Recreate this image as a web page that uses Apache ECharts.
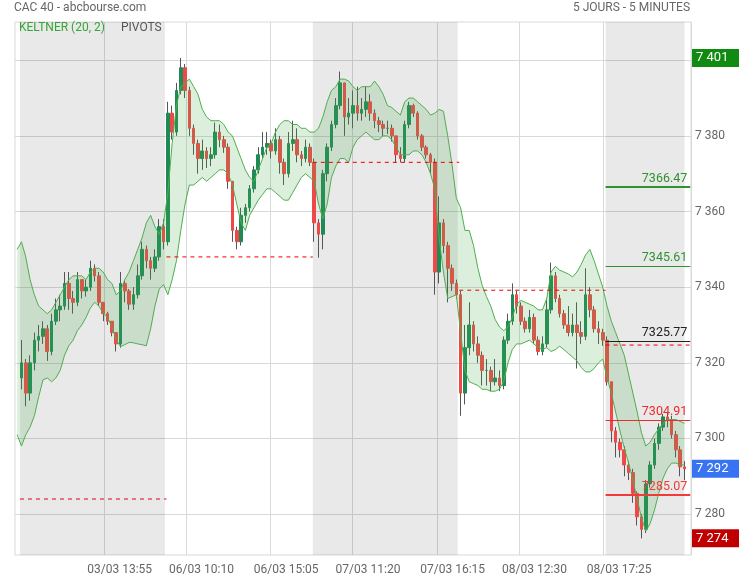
<!DOCTYPE html>
<html><head><meta charset="utf-8">
<script src="https://cdn.jsdelivr.net/npm/echarts@6/dist/echarts.min.js"></script>
<style>html,body{margin:0;padding:0;background:#fff}#c{width:739px;height:580px}</style>
</head><body><div id="c"></div>
<script>
// ---- data (15-minute candles) ----
const days = ['03/03', '06/03', '07/03', '08/03', '09/03'];
const tickLabels = ['03/03 13:55', '06/03 10:10', '06/03 15:05', '07/03 11:20', '07/03 16:15', '08/03 12:30', '08/03 17:25'];
const yTicks = [7280, 7300, 7320, 7340, 7360, 7380, 7400];
const firstOpen = 7316;
const closes = [null,
  7320, 7312, 7320, 7326, 7327, 7329, 7323, 7331, 7334, 7335, 7341, 7337, 7336, 7342, 7339, 7340, 7345, 7343, 7336, 7333, 7331, 7328, 7325, 7341, 7339, 7335.5, 7338, 7343, 7350, 7347, 7345, 7348, 7356, 7352,
  7386, 7381, 7392, 7398, 7392, 7382, 7378, 7374, 7376, 7374, 7375, 7381, 7379, 7377, 7368, 7355, 7352, 7359, 7361, 7366, 7371, 7375, 7377, 7378, 7376, 7379, 7373, 7370, 7378, 7379, 7375, 7374, 7377, 7373,
  7357, 7354, 7370, 7377, 7383, 7388, 7394, 7385, 7386, 7388, 7386, 7387, 7389, 7386, 7384, 7383, 7382, 7382, 7380, 7375, 7374, 7383, 7388, 7386, 7380, 7377, 7375, 7373, 7344, 7357, 7351, 7345, 7341, 7338,
  7312, 7324, 7330, 7325, 7322, 7318, 7318, 7315, 7316, 7314, 7326, 7331, 7338, 7335, 7331, 7329, 7332, 7326, 7323, 7325, 7334, 7343, 7337, 7333, 7330, 7328, 7330, 7328, 7327, 7338, 7334, 7329, 7328, 7326,
  7315, 7302, 7299, 7297, 7293, 7291, 7285.5, 7279.3, 7276, 7288, 7293, 7298.7, 7303, 7305.7, 7305, 7301, 7297, 7292.5, 7292];
const highs = [null,
  7326, 7321, 7322, 7328, 7330, 7331, 7330, 7333, 7337, 7338, 7344, 7344, 7339, 7344, 7342, 7342, 7347, 7346, 7344, 7336, 7333.5, 7331, 7328, 7344, 7342, 7339.5, 7340, 7346, 7352, 7351, 7348, 7350, 7358, 7358,
  7389, 7388, 7394, 7400.6, 7399, 7393, 7383, 7379, 7379, 7377, 7377, 7383.5, 7383, 7380, 7378, 7368, 7356, 7361, 7362, 7367, 7372, 7377, 7381, 7381, 7379, 7382, 7380, 7374, 7381, 7384, 7382, 7376, 7379, 7378,
  7374, 7358, 7371, 7378, 7384, 7390, 7397, 7394, 7390, 7392, 7393, 7390, 7393, 7391, 7387, 7385, 7384, 7384, 7383, 7380, 7377, 7384, 7389, 7388.5, 7386.5, 7380.5, 7377.5, 7375.5, 7374, 7364, 7358, 7352, 7346, 7342,
  7339, 7330, 7336, 7331, 7327, 7323, 7321, 7319, 7321, 7318, 7327, 7333, 7341, 7339, 7336, 7332, 7334, 7333, 7327, 7327, 7337, 7346.5, 7344, 7338, 7334, 7335, 7333, 7336, 7331, 7345, 7340, 7335, 7331, 7329,
  7327, 7315, 7303, 7300, 7298, 7294, 7292, 7286, 7280, 7289, 7294, 7300, 7304, 7306.5, 7307, 7306, 7302, 7298, 7294];
const lows = [null,
  7313, 7308.5, 7310, 7318, 7323, 7325, 7320.5, 7322, 7330, 7331, 7334, 7334, 7333, 7335, 7337, 7337.5, 7339, 7341.5, 7335, 7331, 7330, 7327, 7323, 7324, 7336, 7334, 7334, 7337, 7342, 7345, 7342, 7344, 7347, 7350,
  7351, 7379, 7380, 7391, 7390, 7380, 7375, 7370, 7371, 7371.5, 7372, 7374, 7377, 7375.5, 7366, 7352, 7350, 7351, 7357, 7360, 7365, 7370, 7374, 7375, 7374, 7375, 7370, 7367, 7369, 7376, 7373, 7372, 7373, 7372,
  7352, 7347.8, 7350, 7368, 7376, 7382, 7387, 7380, 7383, 7382, 7384, 7384, 7385, 7384, 7382, 7381, 7380, 7380.5, 7378.5, 7373, 7373, 7373, 7382, 7385, 7379, 7376, 7374, 7370, 7338, 7341, 7349, 7336, 7339, 7337,
  7306, 7309, 7322, 7323, 7320, 7314, 7314, 7312.5, 7314, 7312.5, 7313, 7325, 7330, 7333, 7330, 7328, 7328, 7325, 7322, 7322, 7324, 7333, 7336, 7332, 7329, 7327, 7327, 7318.5, 7325, 7326, 7332, 7328, 7325, 7324.5,
  7314, 7299, 7295, 7295, 7290, 7289, 7283, 7277, 7273.6, 7275, 7287, 7292, 7297, 7302, 7303, 7300, 7295, 7290, 7289];
const upperBand = [7350,
  7352, 7348, 7342, 7338, 7335, 7334, 7333, 7334, 7336, 7338, 7340, 7342, 7343, 7343, 7343, 7342, 7344, 7345, 7345, 7344, 7342, 7341, 7338, 7339, 7342, 7344, 7347, 7350, 7353, 7357, 7359, 7356, 7354, 7357,
  7365, 7378, 7388, 7393, 7394, 7395, 7393, 7391, 7387, 7385, 7384, 7384, 7384, 7383, 7381, 7380, 7377, 7374, 7371, 7369, 7368, 7371, 7374, 7377, 7378, 7381, 7383, 7384, 7384, 7383, 7383, 7382, 7382, 7381,
  7381, 7382, 7385, 7389, 7392, 7393, 7395, 7395, 7394.5, 7393, 7392, 7393, 7393, 7393, 7394.5, 7393, 7391, 7388, 7387.5, 7386.5, 7385.5, 7389, 7390, 7390, 7389, 7388, 7387, 7385.5, 7386, 7387, 7386.5, 7380, 7372.4, 7363.5,
  7361, 7355, 7355, 7351, 7345, 7340.5, 7337.5, 7335, 7331.5, 7329.5, 7328.5, 7329.5, 7332, 7335.5, 7336.5, 7336, 7335.5, 7335, 7334, 7334, 7337, 7344, 7345.5, 7344.5, 7344, 7343.5, 7342.7, 7344, 7346, 7348.5, 7350, 7347, 7343.5, 7340,
  7335, 7331, 7328, 7325, 7322, 7317, 7312, 7307, 7301.5, 7298, 7299, 7301, 7302.5, 7304, 7305, 7305, 7305, 7304.5, 7304];
const lowerBand = [7301,
  7298, 7301, 7303, 7306, 7311, 7315.5, 7316, 7315, 7316, 7318, 7322, 7324.5, 7326, 7328.5, 7330, 7332, 7334.5, 7336, 7335, 7333, 7332, 7329.5, 7326, 7324.3, 7324.8, 7325.4, 7325.3, 7325, 7324.8, 7324.5, 7329, 7335, 7339.5, 7340.7,
  7338, 7342, 7347, 7355, 7362, 7367, 7367, 7368, 7369, 7368, 7369, 7370, 7371, 7371, 7370, 7367, 7362, 7357, 7355, 7359, 7361, 7363, 7364.5, 7366, 7366, 7365, 7364, 7363, 7363, 7365, 7367, 7369, 7370, 7369,
  7368, 7362, 7358, 7362, 7369, 7372, 7374, 7374, 7373, 7377, 7379, 7380, 7381, 7380, 7379, 7379, 7380, 7380, 7379, 7377, 7375, 7375, 7375, 7376, 7376, 7375, 7373, 7370, 7366, 7353, 7344, 7337, 7337.5, 7338,
  7328, 7318, 7315, 7314.5, 7314, 7313, 7313, 7312.5, 7312.5, 7313, 7315, 7320, 7323.5, 7325, 7325, 7325.5, 7326, 7325, 7324, 7323.5, 7324, 7323, 7323.5, 7324.4, 7323.5, 7322.5, 7321.5, 7320.5, 7318.8, 7317.6, 7317.6, 7318.5, 7320, 7321,
  7316, 7312, 7307, 7302, 7297.5, 7293.5, 7289, 7284, 7279, 7275.5, 7277.5, 7281, 7285.5, 7289.5, 7292, 7293.5, 7293.5, 7293, 7293];
const dayPivots = [7284, 7348, 7373, 7339.2, 7324.7];
const lastDayLevels = [7366.47, 7345.61, 7325.77, 7304.91, 7285.07];
const lastDayLevelColors = ['#2e922e', '#2e922e', '#222222', '#ee2b2b', '#f23a3a'];
const lastDayLevelWidths = [2, 1, 1, 1, 2];

// ---- layout helpers ----
const LEAD = 3, SLOTS_PER_DAY = 102, TOTAL_SLOTS = 471, CANDLE_SLOTS = 3;
const FONT = 'Roboto';
function hhmm(m) { const h = Math.floor(m / 60), mm = m % 60; return (h < 10 ? '0' : '') + h + ':' + (mm < 10 ? '0' : '') + mm; }
const slotCats = [];
for (let i = 0; i < LEAD; i++) slotCats.push('lead' + i);
for (let d = 0; d < days.length; d++) {
  for (let s = 0; s < SLOTS_PER_DAY && slotCats.length < TOTAL_SLOTS; s++) slotCats.push(days[d] + ' ' + hhmm(540 + 5 * s));
}
const candleCats = [];
for (let j = 0; j < TOTAL_SLOTS / CANDLE_SLOTS; j++) candleCats.push('c' + j);
const tickSet = new Set(tickLabels);
const fmt = v => Math.round(v).toString().replace(/\B(?=(\d{3})+(?!\d))/g, ' ');

const wickData = [], bodyData = [];
for (let j = 0; j < closes.length; j++) {
  if (closes[j] == null) { wickData.push(['-', '-', '-', '-']); bodyData.push(['-', '-', '-', '-']); continue; }
  const o = j === 1 ? firstOpen : closes[j - 1];
  const c = closes[j];
  const h = Math.max(highs[j], o, c), l = Math.min(lows[j], o, c);
  wickData.push([o, c, l, h]);
  bodyData.push([o, c, Math.min(o, c), Math.max(o, c)]);
}
const bandDiff = upperBand.map((u, i) => +(u - lowerBand[i]).toFixed(2));

const maxHigh = Math.max(...highs.filter(v => v != null));
const minLow = Math.min(...lows.filter(v => v != null));
const lastClose = closes[closes.length - 1];
const lastSlot = LEAD + (closes.length - 1) * CANDLE_SLOTS - 2;

const shadeAreas = [];
for (let d = 0; d < days.length; d += 2) {
  const s0 = LEAD + d * SLOTS_PER_DAY;
  const s1 = Math.min(s0 + SLOTS_PER_DAY - 1, lastSlot);
  shadeAreas.push([{ xAxis: s0 }, { xAxis: s1 }]);
}
const dashedSeries = dayPivots.map((v, d) => {
  const s0 = LEAD + d * SLOTS_PER_DAY;
  const s1 = Math.min(s0 + SLOTS_PER_DAY, TOTAL_SLOTS - 1);
  return { name: 'pv' + d, type: 'line', xAxisIndex: 1, data: [[s0, v], [s1, v]], symbol: 'none', silent: true, z: 5,
    lineStyle: { color: '#ee0000', type: [4, 4], width: 1 } };
});
const lastStart = LEAD + 4 * SLOTS_PER_DAY;
const levelSeries = lastDayLevels.map((v, i) => ({
  name: 'lvl' + i, type: 'line', xAxisIndex: 1, data: [], silent: true, z: 6,
  markLine: { silent: true, symbol: ['none', 'none'],
    lineStyle: { color: lastDayLevelColors[i], type: 'solid', width: lastDayLevelWidths[i] },
    label: { show: true, position: 'insideEndTop', formatter: v.toFixed(2), color: lastDayLevelColors[i], fontSize: 12.5, fontFamily: FONT, distance: [3, 2] },
    emphasis: { disabled: true },
    data: [[{ coord: [lastStart, v] }, { coord: [TOTAL_SLOTS - 1, v] }]] }
}));
function tagSeries(v, bg) {
  return { name: 'tag' + v, type: 'line', xAxisIndex: 0, data: [], silent: true, clip: false, z: 7,
    markLine: { silent: true, symbol: ['none', 'none'], lineStyle: { color: 'rgba(0,0,0,0)', width: 0 }, emphasis: { disabled: true },
      label: { show: true, position: 'end', distance: 1, formatter: fmt(v), color: '#fff', backgroundColor: bg, opacity: 1,
        fontSize: 13, fontFamily: FONT, padding: [3, 8, 2, 4], width: 35, lineHeight: 13 },
      data: [{ yAxis: v }] } };
}

const chart = echarts.init(document.getElementById('c'), null, { renderer: 'canvas' });
chart.setOption({
  animation: false,
  backgroundColor: '#fff',
  textStyle: { fontFamily: FONT },
  title: [
    { text: 'CAC 40 - abcbourse.com', left: 14, top: 2, padding: 0, textStyle: { fontSize: 12, fontWeight: 'normal', color: '#666', fontFamily: FONT } },
    { text: '5 JOURS - 5 MINUTES', right: 49, top: 2, padding: 0, textStyle: { fontSize: 12, fontWeight: 'normal', color: '#666', fontFamily: FONT } },
    { text: 'KELTNER (20, 2)', left: 19, top: 22, padding: 0, textStyle: { fontSize: 12, fontWeight: 'normal', color: '#35a535', fontFamily: FONT } },
    { text: 'PIVOTS', left: 121, top: 22, padding: 0, textStyle: { fontSize: 12, fontWeight: 'normal', color: '#555', fontFamily: FONT } }
  ],
  grid: { left: 15, right: 48, top: 22, bottom: 25, show: true, borderColor: '#d9d9d9', borderWidth: 1, backgroundColor: 'transparent' },
  xAxis: [
    { type: 'category', data: candleCats, boundaryGap: true, show: false },
    { type: 'category', data: slotCats, boundaryGap: true, position: 'bottom',
      axisLine: { show: false }, axisTick: { show: false },
      axisLabel: { interval: (i, v) => tickSet.has(v), color: '#666', fontSize: 12, margin: 9, padding: [0, 0, 0, 30], fontFamily: FONT },
      splitLine: { show: true, interval: (i, v) => tickSet.has(v), lineStyle: { color: '#d9d9d9', width: 1 } } }
  ],
  yAxis: {
    type: 'value', position: 'right', min: 7269.2, max: 7410.1,
    axisLine: { show: false }, axisTick: { show: false, customValues: yTicks },
    axisLabel: { customValues: yTicks, color: '#666', fontSize: 12, margin: 4, formatter: fmt, fontFamily: FONT },
    splitLine: { show: true, lineStyle: { color: '#d9d9d9', width: 1 } }
  },
  series: [
    { name: 'shade', type: 'line', xAxisIndex: 1, data: [], silent: true, z: 1,
      markArea: { silent: true, itemStyle: { color: 'rgba(0,0,0,0.085)' }, data: shadeAreas } },
    { name: 'wicks', type: 'candlestick', xAxisIndex: 0, data: wickData, barWidth: 0.6, silent: true, z: 2,
      itemStyle: { color: '#555', color0: '#555', borderColor: '#555', borderColor0: '#555', borderWidth: 1 } },
    { name: 'bodies', type: 'candlestick', xAxisIndex: 0, data: bodyData, barWidth: 3.1, silent: true, z: 2,
      itemStyle: { color: '#1f8a55', color0: '#f04848', borderColor: '#1f8a55', borderColor0: '#f04848', borderWidth: 1 } },
    { name: 'kLower', type: 'line', xAxisIndex: 0, data: lowerBand, stack: 'k', symbol: 'none', silent: true, z: 4,
      lineStyle: { color: '#4fae4f', width: 1 } },
    { name: 'KELTNER (20, 2)', type: 'line', xAxisIndex: 0, data: bandDiff, stack: 'k', symbol: 'none', silent: true, z: 4,
      lineStyle: { color: '#4fae4f', width: 1 }, areaStyle: { color: 'rgba(76,175,80,0.28)' } }
  ].concat(dashedSeries, levelSeries, [tagSeries(maxHigh, '#118a11'), tagSeries(lastClose, '#3874f2'), tagSeries(minLow, '#c00000')])
});
</script>
</body></html>
